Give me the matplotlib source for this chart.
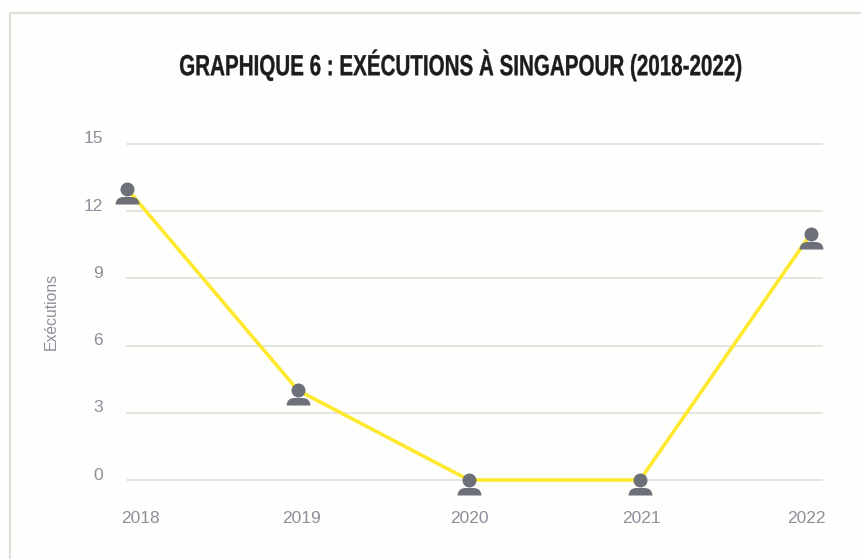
import matplotlib
matplotlib.use('Agg')
import matplotlib.pyplot as plt
import matplotlib.patheffects as pe
from matplotlib.path import Path
from matplotlib.transforms import Affine2D

# Data
years = [2018, 2019, 2020, 2021, 2022]
executions = [13, 4, 0, 0, 11]
y_ticks = [0, 3, 6, 9, 12, 15]
title = 'GRAPHIQUE 6 : EXÉCUTIONS À SINGAPOUR (2018-2022)'

W, H = 861, 559
GREY = '#8d8f9a'


# No condensed bold font is installed, so squeeze the title sideways when drawing
class Squeeze(pe.AbstractPathEffect):
    def __init__(self, sx, cx):
        super().__init__()
        self.sx = sx
        self.cx = cx

    def draw_path(self, renderer, gc, tpath, affine, rgbFace=None):
        t = affine + Affine2D().translate(-self.cx, 0).scale(self.sx, 1).translate(self.cx, 0)
        gc.set_linewidth(0.25)
        gc.set_foreground(rgbFace)
        renderer.draw_path(gc, tpath, t, rgbFace)


fig = plt.figure(figsize=(W / 100, H / 100), dpi=100, facecolor='#fefefc')

# Axes box in pixels: 2018 at x=127, 2022 at x=811, 0 at y=480, 15 at y=144
ax = fig.add_axes([127 / W, 1 - 480 / H, (811 - 127) / W, (480 - 144) / H])
ax.set_xlim(2018, 2022)
ax.set_ylim(0, 15)
ax.patch.set_alpha(0)
for s in ax.spines.values():
    s.set_visible(False)
ax.set_xticks([])
ax.set_yticks([])

# Gridlines run a bit past the last year
for v in y_ticks:
    ax.plot([2018, 2022.064], [v, v], color='#dcdcd8', lw=1.1, clip_on=False, zorder=1)
    ax.annotate(str(v), (2018, v), xytext=(-24, 5), textcoords='offset pixels',
                ha='right', va='center', fontsize=12.5, color=GREY,
                family='Liberation Sans', annotation_clip=False)

ax.plot(years, executions, color='#ffe92e', lw=2.6, clip_on=False, zorder=2)

# Person marker: head on the point, shoulders below (pixel units, y up)
head = Path.circle((0, 0), 7)
body = Path([(-12, -15), (-11.5, -7.5), (-4, -7.5), (4, -7.5), (11.5, -7.5), (12, -15), (-12, -15)],
            [Path.MOVETO, Path.CURVE3, Path.CURVE3, Path.LINETO, Path.CURVE3, Path.CURVE3, Path.CLOSEPOLY])
person = Path.make_compound_path(head, body)
ax.scatter(years, executions, marker=person, s=467, color='#6d7079', linewidths=0,
           clip_on=False, zorder=3)

# Year labels sit off-centre from the points in the original
label_shift = [13.5, 3.5, 0, 1.5, -5]
for yr, dx in zip(years, label_shift):
    ax.annotate(str(yr), (yr, 0), xytext=(dx, -38.5), textcoords='offset pixels',
                ha='center', va='center', fontsize=12.5, color=GREY,
                family='Liberation Sans', annotation_clip=False)

fig.text(51 / W, 1 - 311.5 / H, 'Exécutions', rotation=90, ha='center', va='center',
         fontsize=11.3, color=GREY, family='Liberation Sans')

title_cx = 460.5
fig.text(title_cx / W, 1 - 65 / H, title, ha='center', va='center', fontsize=21,
         fontweight='bold', color='#1c1c1e', family='Liberation Sans',
         path_effects=[Squeeze(0.706, title_cx)])

# Outer frame: top and left only
fig.add_artist(plt.Line2D([10 / W, 10 / W, 1], [0, 1 - 13 / H, 1 - 13 / H],
                          color='#dfdfdb', lw=1.6))

plt.savefig('out.png', dpi=100, facecolor=fig.get_facecolor())
